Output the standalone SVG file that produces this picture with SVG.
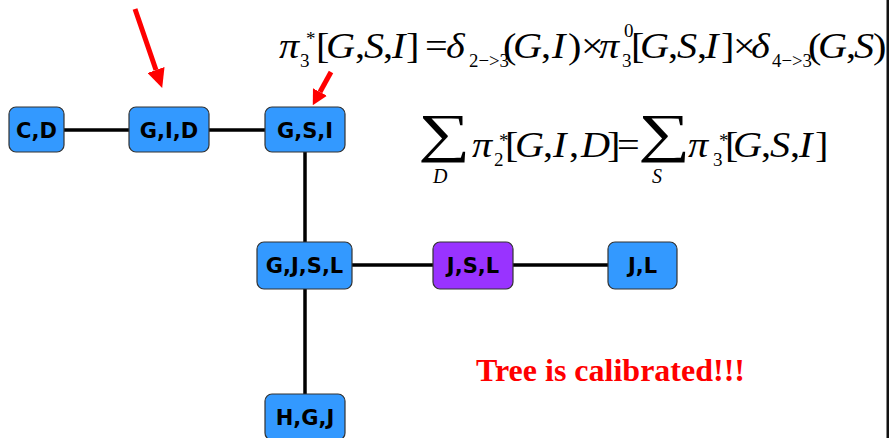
<svg xmlns="http://www.w3.org/2000/svg" width="889" height="438" viewBox="0 0 889 438">
<defs>
<style>
.node rect{stroke:#333;stroke-width:1.2}
.blue{fill:#3399ff}
.purple{fill:#9933ff}
.lbl{font-family:"DejaVu Sans",Verdana,sans-serif;font-weight:bold;font-size:21px;fill:#000;text-anchor:middle}
.conn line{stroke:#000;stroke-width:3.5}
.arr{stroke:#ff0000;stroke-width:5}
.m{font-family:"Liberation Serif","Times New Roman",serif;font-size:35px;fill:#000}
.i{font-style:italic}
.s{font-size:19px}
.sig{font-size:53px}
.lim{font-size:20px;font-style:italic}
</style>
<marker id="ahBig" viewBox="0 0 19 18" refX="0" refY="9" markerWidth="19" markerHeight="18" orient="auto" markerUnits="userSpaceOnUse">
<path d="M0,0 L19,9 L0,18 z" fill="#ff0000"/>
</marker>
<marker id="ahSmall" viewBox="0 0 15 16" refX="0" refY="8" markerWidth="15" markerHeight="16" orient="auto" markerUnits="userSpaceOnUse">
<path d="M0,0 L15,8 L0,16 z" fill="#ff0000"/>
</marker>
</defs>
<rect width="889" height="438" fill="#fff"/>
<line x1="888" y1="0" x2="888" y2="438" stroke="#111" stroke-width="3"/>
<g id="connectors" class="conn">
<line x1="64" y1="130" x2="129" y2="130"/>
<line x1="209" y1="130" x2="265" y2="130"/>
<line x1="305" y1="152" x2="305" y2="242"/>
<line x1="305" y1="289" x2="305" y2="394"/>
<line x1="352" y1="265" x2="433" y2="265"/>
<line x1="513" y1="265" x2="608" y2="265"/>
</g>
<g id="arrows">
<line class="arr" x1="135" y1="9" x2="156" y2="70" marker-end="url(#ahBig)"/>
<line class="arr" x1="331" y1="72" x2="320" y2="92" marker-end="url(#ahSmall)"/>
</g>
<g id="n-cd" class="node"><rect class="blue" x="9" y="107" width="55" height="45" rx="7"/><text class="lbl" x="36.5" y="138">C,D</text></g>
<g id="n-gid" class="node"><rect class="blue" x="129" y="107" width="80" height="45" rx="7"/><text class="lbl" x="169" y="138">G,I,D</text></g>
<g id="n-gsi" class="node"><rect class="blue" x="265" y="107" width="80" height="45" rx="7"/><text class="lbl" x="305" y="138">G,S,I</text></g>
<g id="n-gjsl" class="node"><rect class="blue" x="257" y="242" width="95" height="47" rx="7"/><text class="lbl" x="304.5" y="273">G,J,S,L</text></g>
<g id="n-jsl" class="node"><rect class="purple" x="433" y="242" width="80" height="47" rx="7"/><text class="lbl" x="473" y="273">J,S,L</text></g>
<g id="n-jl" class="node"><rect class="blue" x="608" y="242" width="69" height="47" rx="7"/><text class="lbl" x="642.5" y="273">J,L</text></g>
<g id="n-hgj" class="node"><rect class="blue" x="265" y="394" width="80" height="46" rx="7"/><text class="lbl" x="305" y="425">H,G,J</text></g>
<g id="formula1" class="m">
<g transform="scale(1.15,1)">
<text y="58"><tspan x="242.6" class="i">π</tspan></text>
<text y="58"><tspan x="274.8">[</tspan><tspan x="283.5" class="i">G</tspan><tspan x="308.7">,</tspan><tspan x="316.5" class="i">S</tspan><tspan x="333">,</tspan><tspan x="340.9" class="i">I</tspan><tspan x="353">]</tspan><tspan x="369.6">=</tspan><tspan x="387.8" class="i">δ</tspan></text>
<text y="58"><tspan x="437.4">(</tspan><tspan x="446.1" class="i">G</tspan><tspan x="470.4">,</tspan><tspan x="480" class="i">I</tspan><tspan x="493.9">)</tspan><tspan x="505.2">×</tspan><tspan x="520.9" class="i">π</tspan></text>
<text y="58"><tspan x="548.7">[</tspan><tspan x="556.5" class="i">G</tspan><tspan x="580.9">,</tspan><tspan x="588.7" class="i">S</tspan><tspan x="606.1">,</tspan><tspan x="613" class="i">I</tspan><tspan x="627">]</tspan><tspan x="637.4">×</tspan><tspan x="653" class="i">δ</tspan></text>
<text y="58"><tspan x="702.6">(</tspan><tspan x="711.3" class="i">G</tspan><tspan x="735.7">,</tspan><tspan x="742.6" class="i">S</tspan><tspan x="759.1">)</tspan></text>
</g>
<text x="300" y="67" class="s">3</text>
<text x="306" y="45" class="s">*</text>
<text x="469" y="67" class="s" textLength="40" lengthAdjust="spacingAndGlyphs">2−&gt;3</text>
<text x="622" y="67" class="s">3</text>
<text x="624" y="37" class="s">0</text>
<text x="772" y="67" class="s" textLength="40" lengthAdjust="spacingAndGlyphs">4−&gt;3</text>
</g>
<g id="formula2" class="m">
<text class="sig" transform="translate(418,151) scale(1.38,1)">∑</text>
<text class="sig" transform="translate(638,151) scale(1.38,1)">∑</text>
<text x="433" y="183" class="lim">D</text>
<text x="652" y="183" class="lim">S</text>
<g transform="scale(1.15,1)">
<text y="157"><tspan x="410.4" class="i">π</tspan></text>
<text y="157"><tspan x="439.1">[</tspan><tspan x="447.8" class="i">G</tspan><tspan x="472.2">,</tspan><tspan x="480.9" class="i">I</tspan><tspan x="494.8">,</tspan><tspan x="505.2" class="i">D</tspan><tspan x="527.8">]</tspan><tspan x="536.5">=</tspan></text>
<text y="157"><tspan x="598.3" class="i">π</tspan></text>
<text y="157"><tspan x="630.4">[</tspan><tspan x="637.4" class="i">G</tspan><tspan x="661.7">,</tspan><tspan x="669.6" class="i">S</tspan><tspan x="687">,</tspan><tspan x="694.8" class="i">I</tspan><tspan x="708.7">]</tspan></text>
</g>
<text x="494" y="166" class="s">2</text>
<text x="499" y="147" class="s">*</text>
<text x="713" y="166" class="s">3</text>
<text x="719" y="147" class="s">*</text>
</g>
<text id="calibrated" x="476" y="381" style="font-family:'Liberation Serif','Times New Roman',serif;font-weight:bold;font-size:32px;fill:#ff0000">Tree is calibrated!!!</text>
</svg>
